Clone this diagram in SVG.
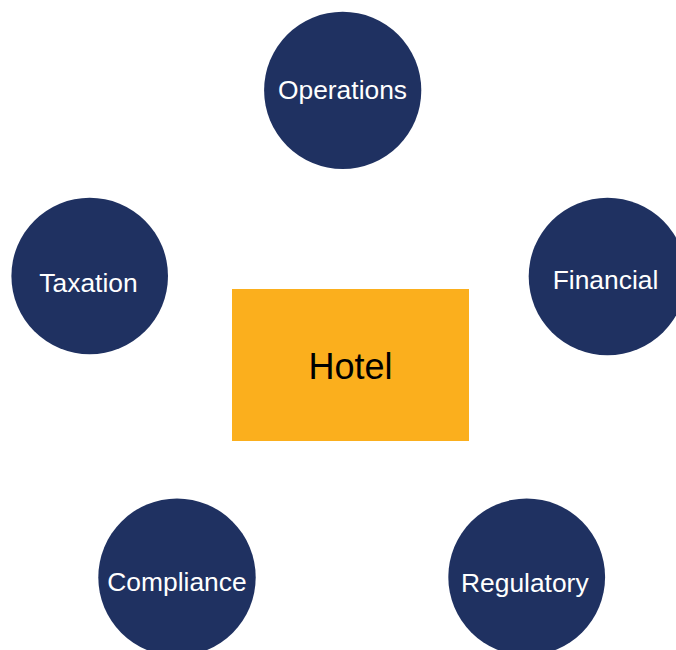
<svg xmlns="http://www.w3.org/2000/svg" width="676" height="650" viewBox="0 0 676 650">
  <style>
    .topic circle { fill: #1f3161; }
    .topic text { fill: #ffffff; font-family: "Liberation Sans", Arial, sans-serif; font-size: 26.4px; text-anchor: middle; }
    .hub rect { fill: #fbaf1d; }
    .hub text { fill: #000000; font-family: "Liberation Sans", Arial, sans-serif; font-size: 36px; text-anchor: middle; }
  </style>
  <rect width="676" height="650" fill="#ffffff"/>
  <g id="connectors"></g>
  <g id="hotel" class="hub">
    <rect x="232" y="289" width="237" height="152"/>
    <text x="350.5" y="379">Hotel</text>
  </g>
  <g id="operations" class="topic">
    <circle cx="342.7" cy="90.3" r="78.6"/>
    <text x="342.5" y="99.3">Operations</text>
  </g>
  <g id="taxation" class="topic">
    <circle cx="89.7" cy="276" r="78.3"/>
    <text x="88.5" y="292">Taxation</text>
  </g>
  <g id="financial" class="topic">
    <circle cx="607.5" cy="276.5" r="78.8"/>
    <text x="605.5" y="289.3">Financial</text>
  </g>
  <g id="compliance" class="topic">
    <circle cx="177" cy="577.3" r="78.7"/>
    <text x="177" y="590.7">Compliance</text>
  </g>
  <g id="regulatory" class="topic">
    <circle cx="526.7" cy="577" r="78.4"/>
    <text x="524.8" y="591.5">Regulatory</text>
  </g>
</svg>
